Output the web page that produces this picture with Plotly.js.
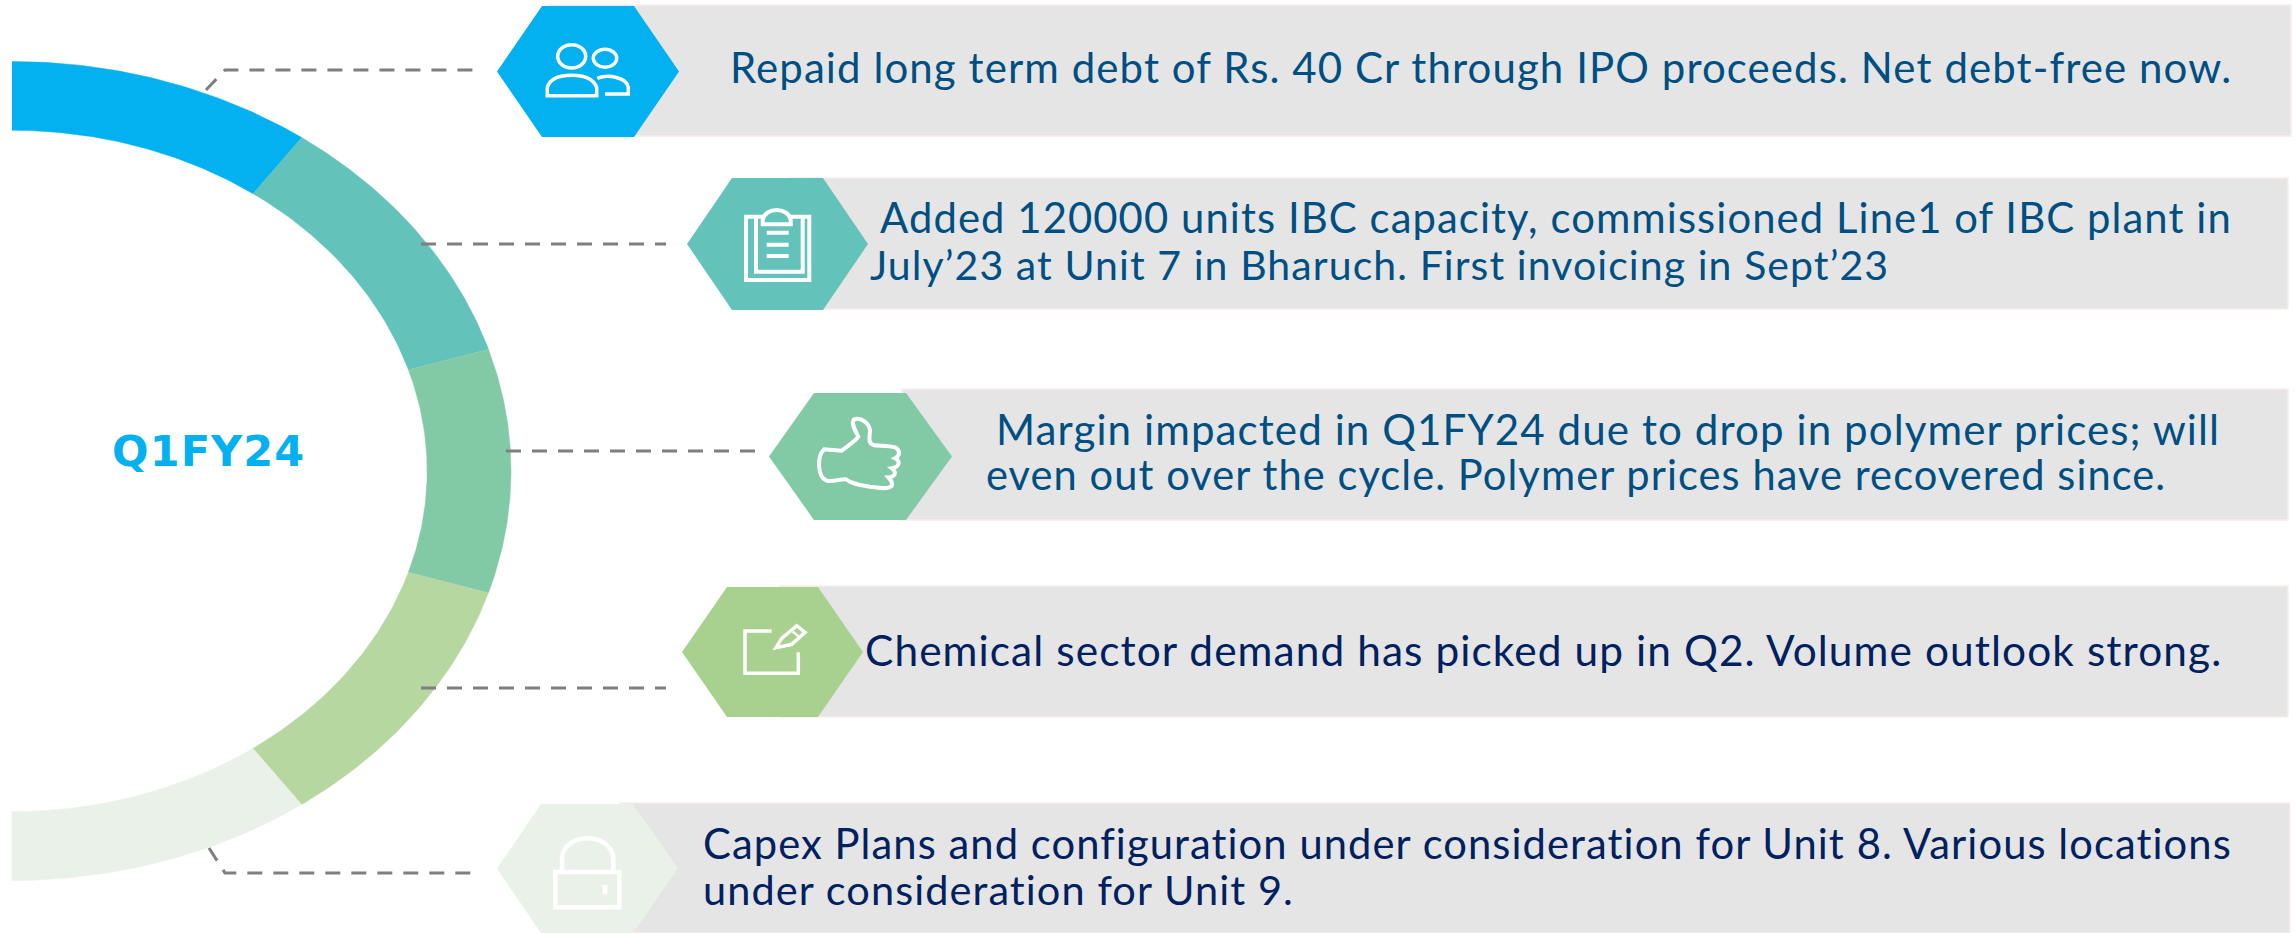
<!DOCTYPE html>
<html><head><meta charset="utf-8">
<script src="https://cdn.plot.ly/plotly-3.0.1.min.js"></script>
<style>html,body{margin:0;padding:0;background:#fff}
.annotation-text{letter-spacing:1.08px}</style></head>
<body><div id="chart" style="width:2295px;height:933px"></div>
<script>
// ---- data ----
const segmentNames = ["Debt", "IBC capacity", "Margin", "Demand", "Capex"];
const segmentDegrees = [35.5, 37.2, 34.6, 37.2, 35.5];
const segmentColors = ["#03B1F1", "#63C2B9", "#82CAA5", "#B6D7A0", "#E9F1E9"];
const hexColors = ["#03B1F1", "#63C2B9", "#82CAA5", "#A8D18F", "#E9F1E9"];
const innerRatio = 0.832;
const centerTitle = "Q1FY24";
const textBlue = "#004F82", textNavy = "#002060";
const rowLines = [
  {t:"Repaid long term debt of Rs. 40 Cr through IPO proceeds. Net debt-free now.", x:729, y:67, c:textBlue, s:42},
  {t:"Added 120000 units IBC capacity, commissioned Line1 of IBC plant in", x:879, y:217, c:textBlue, s:41.8},
  {t:"July’23 at Unit 7 in Bharuch. First invoicing in Sept’23", x:869, y:264, c:textBlue, s:41},
  {t:"Margin impacted in Q1FY24 due to drop in polymer prices; will", x:995, y:428, c:textBlue, s:42.1},
  {t:"even out over the cycle. Polymer prices have recovered since.", x:985, y:474, c:textBlue, s:41.6},
  {t:"Chemical sector demand has picked up in Q2. Volume outlook strong.", x:864, y:649, c:textNavy, s:42.4},
  {t:"Capex Plans and configuration under consideration for Unit 8. Various locations", x:702, y:843, c:textNavy, s:41.7},
  {t:"under consideration for Unit 9.", x:702, y:889, c:textNavy, s:41.5}
];
// [left, topLeft, topRight, right, top, bottom]
const hexes = [
  [497,542,634,679,6,137],[687,732,823,868,178,310],[769,814,906,952,393,520],
  [682,727,818,863,587,717],[497,541,633,678,804,933]
];
// [x0,y0,x1,y1]
const boxes = [[549,5,2291,136],[790,178,2288,309],[902,389,2288,520],[780,586,2288,717],[620,803,2290,933]];
const leaders = [
  {x:[206,225,474], y:[90,70,70]},
  {x:[421,666], y:[244,244]},
  {x:[506,757], y:[451,451]},
  {x:[421,666], y:[688,688]},
  {x:[209,225,472], y:[848,873,873]}
];

// ---- ring: angular sizes drawn on an axis pair whose unit is the outer radius ----
const traces = [];
let start = 90;
segmentDegrees.forEach((deg, i) => {
  const end = start - deg, xs = [], ys = [], n = 60;
  for (let k = 0; k <= n; k++) { const a = (start + (end - start) * k / n) * Math.PI / 180; xs.push(Math.cos(a)); ys.push(Math.sin(a)); }
  for (let k = n; k >= 0; k--) { const a = (start + (end - start) * k / n) * Math.PI / 180; xs.push(innerRatio * Math.cos(a)); ys.push(innerRatio * Math.sin(a)); }
  traces.push({type:"scatter", mode:"lines", x:xs, y:ys, xaxis:"x", yaxis:"y", name:segmentNames[i],
    fill:"toself", fillcolor:segmentColors[i], line:{width:0.5, color:segmentColors[i]}, hoverinfo:"name", showlegend:false});
  start = end;
});
leaders.forEach(l => traces.push({type:"scatter", mode:"lines", x:l.x, y:l.y, xaxis:"x2", yaxis:"y2",
  line:{color:"#7F7F7F", width:3, dash:"15px,11px"}, hoverinfo:"skip", showlegend:false}));

// ---- shapes ----
const shapes = [];
boxes.forEach(b => shapes.push({type:"rect", xref:"x2", yref:"y2", x0:b[0], y0:b[1], x1:b[2], y1:b[3],
  fillcolor:"#E5E5E5", line:{color:"#FBEDED", width:1.5}}));
hexes.forEach((h, i) => { const m = (h[4] + h[5]) / 2;
  shapes.push({type:"path", xref:"x2", yref:"y2", path:`M${h[0]},${m}L${h[1]},${h[4]}L${h[2]},${h[4]}L${h[3]},${m}L${h[2]},${h[5]}L${h[1]},${h[5]}Z`,
    fillcolor:hexColors[i], line:{width:0}}); });
function ic(x0, y0, d, w) { // icon path written in 3x crop units, converted to pixels
  const p = d.replace(/(-?[\d.]+),(-?[\d.]+)/g, (_, a, b) => `${(x0 + a / 3).toFixed(1)},${(y0 + b / 3).toFixed(1)}`);
  shapes.push({type:"path", xref:"x2", yref:"y2", path:p, line:{color:"#fff", width:w||3}, fillcolor:"rgba(0,0,0,0)"});
}
function ell(cx, cy, rx, ry) { const k = 0.5523;
  return `M${cx-rx},${cy}C${cx-rx},${cy-k*ry} ${cx-k*rx},${cy-ry} ${cx},${cy-ry}C${cx+k*rx},${cy-ry} ${cx+rx},${cy-k*ry} ${cx+rx},${cy}C${cx+rx},${cy+k*ry} ${cx+k*rx},${cy+ry} ${cx},${cy+ry}C${cx-k*rx},${cy+ry} ${cx-rx},${cy+k*ry} ${cx-rx},${cy}Z`; }
// people
ic(480,0, ell(275,169,42,35), 3.5);
ic(480,0, ell(375,175,35,27), 3.5);
ic(480,0, "M202,287L202,262C210,236 240,226 275,226C310,226 340,236 350,262L350,287Z", 3.5);
ic(480,0, "M352,235C385,222 440,232 445,262L445,282L375,282", 3.5);
// clipboard
ic(670,165, "M278,155L228,155L228,345L418,345L418,155L362,155", 4);
ic(670,165, "M258,160L258,320L398,320L398,160", 4);
ic(670,165, "M278,178L278,165C285,125 355,125 362,165L362,178Z", 4);
ic(670,165, "M290,203L356,203M290,239L356,239M290,273L356,273", 4);
// thumb
ic(760,380, "M245,212L192,208C170,230 172,290 200,302C220,306 245,296 258,298C275,312 300,315 330,320C350,322 380,330 395,318C400,308 392,300 385,292C405,290 412,278 395,265C415,262 425,245 405,235C420,228 422,210 405,202C385,196 355,198 340,195C322,188 330,170 330,150C325,125 300,112 282,118C272,130 285,150 295,170C285,185 262,198 245,212Z", 4);
// edit
ic(670,575, "M305,168L225,168L225,295L385,295L385,232", 3.5);
ic(670,575, "M318,218L335,190L380,152L405,172L365,208Z", 3.5);
ic(670,575, "M368,170L385,183", 2.5);
// lock
ic(480,790, "M226,246L418,246L418,352L226,352Z", 4.5);
ic(480,790, "M246,246L246,205C250,125 395,125 400,205L400,246", 4.5);
ic(480,790, "M375,285L375,312", 5);

// ---- text ----
const fontFam = "Lato, 'Open Sans', sans-serif";
const annotations = rowLines.map(r => ({xref:"x2", yref:"y2", x:r.x, y:r.y, xanchor:"left", yanchor:"middle", align:"left", showarrow:false,
  text:r.t, font:{family:fontFam, size:r.s, color:r.c}, borderpad:0}));
annotations.push({xref:"x2", yref:"y2", x:208, y:451, xanchor:"center", yanchor:"middle", showarrow:false,
  text:"<b>"+centerTitle+"</b>", font:{family:"'DejaVu Sans', sans-serif", size:43, color:"#03B1F1"}});

const hidden = {visible:false, fixedrange:true, showgrid:false, zeroline:false};
Plotly.newPlot("chart", traces, {
  width:2295, height:933, margin:{l:0,r:0,t:0,b:0,pad:0}, paper_bgcolor:"#fff", plot_bgcolor:"rgba(0,0,0,0)", showlegend:false,
  xaxis:{...hidden, range:[-12/499,(2295-12)/499], domain:[0,1]},
  yaxis:{...hidden, range:[-(933-471)/409.5,471/409.5], domain:[0,1]},
  xaxis2:{...hidden, range:[0,2295], domain:[0,1], overlaying:"x"},
  yaxis2:{...hidden, range:[933,0], domain:[0,1], overlaying:"y"},
  shapes, annotations
}, {displayModeBar:false, staticPlot:true});
</script></body></html>
